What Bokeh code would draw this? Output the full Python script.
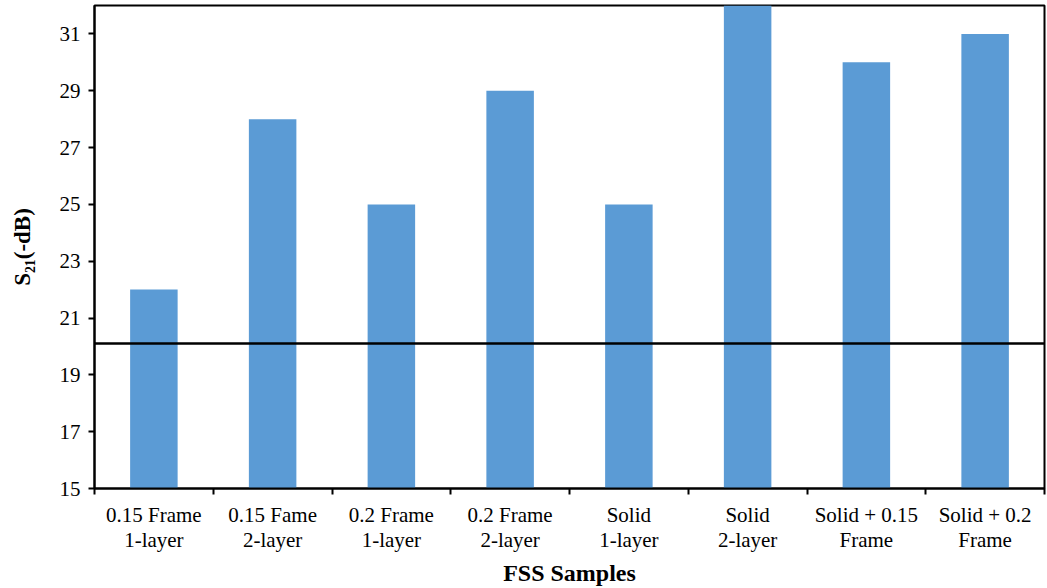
from bokeh.plotting import figure
from bokeh.models import Range1d, FixedTicker, LinearAxis, Span, ColumnDataSource
from bokeh.embed import file_html
from bokeh.resources import INLINE

categories = ["0.15 Frame\n1-layer", "0.15 Fame\n2-layer", "0.2 Frame\n1-layer", "0.2 Frame\n2-layer",
              "Solid\n1-layer", "Solid\n2-layer", "Solid + 0.15\nFrame", "Solid + 0.2\nFrame"]
s21 = [22, 28, 25, 29, 25, 32, 30, 31]
y_ticks = [15, 17, 19, 21, 23, 25, 27, 29, 31]
ref_level = 20.1

FONT = "Liberation Serif"
n = len(categories)
centers = [i + 0.5 for i in range(n)]
src = ColumnDataSource(dict(x=centers, top=s21))

p = figure(width=1047, height=588, output_backend="svg", toolbar_location=None,
           x_range=Range1d(0, n), y_range=Range1d(15, 32),
           min_border_left=94, min_border_right=3, min_border_top=5, min_border_bottom=97,
           x_axis_location=None, y_axis_location=None)
p.grid.visible = False
p.outline_line_color = "black"
p.outline_line_width = 2
p.background_fill_color = "white"
p.border_fill_color = "white"

p.vbar(x="x", top="top", bottom=15, width=0.4, source=src, fill_color="#5B9BD5", line_color=None)

p.add_layout(Span(location=ref_level, dimension="width", line_color="black", line_width=2.5))

yax = LinearAxis(ticker=FixedTicker(ticks=y_ticks))
yax.axis_label = "S₂₁(-dB)"
yax.axis_label_text_font = FONT
yax.axis_label_text_font_style = "bold"
yax.axis_label_text_font_size = "23px"
yax.axis_label_text_color = "black"
yax.axis_label_standoff = 22
yax.major_label_text_font = FONT
yax.major_label_text_font_size = "21px"
yax.major_label_text_color = "black"
yax.major_label_standoff = 8
yax.axis_line_color = "black"
yax.axis_line_width = 2
yax.major_tick_line_width = 2
yax.major_tick_out = 6
yax.major_tick_in = 0
yax.minor_tick_line_color = None
p.add_layout(yax, "left")

# boundary ticks
xax = LinearAxis(ticker=FixedTicker(ticks=list(range(n + 1))))
xax.major_label_text_font_size = "0px"
xax.major_label_text_color = None
xax.axis_line_color = "black"
xax.axis_line_width = 2
xax.major_tick_line_width = 2
xax.major_tick_out = 6
xax.major_tick_in = 0
xax.minor_tick_line_color = None
xax.major_label_standoff = 0
p.add_layout(xax, "below")

# category labels
xlab = LinearAxis(ticker=FixedTicker(ticks=centers))
xlab.major_label_overrides = {c: lab for c, lab in zip(centers, categories)}
xlab.major_label_text_font = FONT
xlab.major_label_text_font_size = "21px"
xlab.major_label_text_color = "black"
xlab.major_label_text_line_height = 1.05
xlab.axis_line_color = None
xlab.major_tick_line_color = None
xlab.minor_tick_line_color = None
xlab.major_label_standoff = 2
xlab.axis_label = "FSS Samples"
xlab.axis_label_text_font = FONT
xlab.axis_label_text_font_style = "bold"
xlab.axis_label_text_font_size = "24px"
xlab.axis_label_text_color = "black"
xlab.axis_label_standoff = 5
p.add_layout(xlab, "below")

open("out.html", "w").write(file_html(p, INLINE))
